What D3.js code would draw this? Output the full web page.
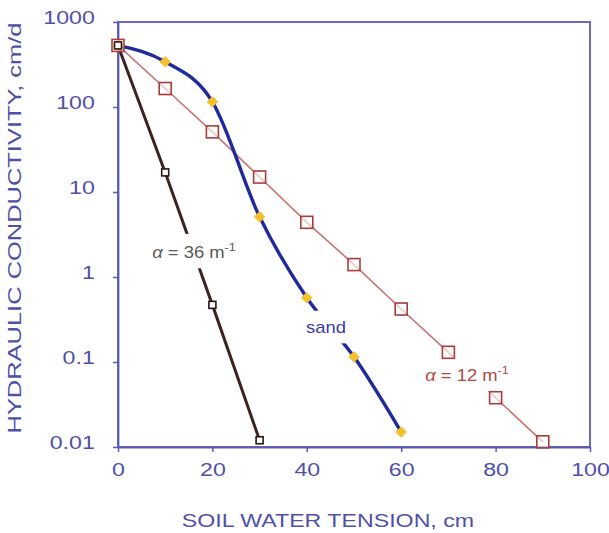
<!DOCTYPE html>
<html>
<head>
<meta charset="utf-8">
<script src="https://cdn.jsdelivr.net/npm/d3@7/dist/d3.min.js"></script>
<style>
  html, body { margin: 0; padding: 0; background: #fff; }
  svg { display: block; }
  text { font-family: "Liberation Sans", Arial, sans-serif; }
</style>
</head>
<body>
<svg id="chart" width="609" height="533"></svg>
<script>
// Soil water tension (cm) at each measured point
const tension36 = [0, 10, 20, 30];
const conductivity36 = [530, 17, 0.47, 0.012];

const tensionSand = [0, 10, 20, 30, 40, 50, 60];
const conductivitySand = [530, 340, 115, 5.1, 0.57, 0.115, 0.015];

const tension12 = [0, 10, 20, 30, 40, 50, 60, 70, 80, 90];
const conductivity12 = [530, 165, 51, 15, 4.4, 1.4, 0.42, 0.13, 0.038, 0.0115];

const xTicks = [0, 20, 40, 60, 80, 100];
const yTicks = [0.01, 0.1, 1, 10, 100, 1000];
const yTickLabels = ["0.01", "0.1", "1", "10", "100", "1000"];

const svg = d3.select("#chart");
const axisColor = "#5a5ab2";
const labelColor = "#5050a8";
const stretch = "scale(1.22,1)";

const x = d3.scaleLinear().domain([0, 100]).range([118, 590]);
const y = d3.scaleLog().domain([0.01, 1000]).range([447, 22]);

// frame
svg.append("rect")
  .attr("x", x(0)).attr("y", y(1000))
  .attr("width", x(100) - x(0)).attr("height", y(0.01) - y(1000))
  .attr("fill", "none").attr("stroke", axisColor).attr("stroke-width", 1.8);

// axes
const xAxis = svg.append("g")
  .attr("transform", `translate(0,${y(0.01)})`)
  .call(d3.axisBottom(x).tickValues(xTicks).tickSize(5).tickSizeOuter(0).tickFormat(d3.format("d")));
const yAxis = svg.append("g")
  .attr("transform", `translate(${x(0)},0)`)
  .call(d3.axisLeft(y).tickValues(yTicks).tickSize(5).tickSizeOuter(0)
    .tickFormat((d, i) => yTickLabels[i]));

[xAxis, yAxis].forEach(g => {
  g.select(".domain").attr("stroke", axisColor).attr("stroke-width", 1.8);
  g.selectAll(".tick line").attr("stroke", axisColor).attr("stroke-width", 1.5);
  g.selectAll(".tick text")
    .attr("fill", labelColor)
    .attr("font-size", 19)
    .attr("font-family", "Liberation Sans, Arial, sans-serif")
    .attr("transform", stretch);
});
xAxis.selectAll(".tick text").attr("y", 16).attr("dy", "0.71em");
yAxis.selectAll(".tick text").attr("x", -19).attr("dy", "0.1em");

// axis titles
svg.append("g").attr("transform", "translate(328,527)")
  .append("text")
  .attr("text-anchor", "middle")
  .attr("font-size", 19)
  .attr("fill", labelColor)
  .attr("transform", stretch)
  .text("SOIL WATER TENSION, cm");

svg.append("g").attr("transform", "translate(21,228) rotate(-90)")
  .append("text")
  .attr("text-anchor", "middle")
  .attr("font-size", 19)
  .attr("fill", labelColor)
  .attr("transform", "scale(1.34,1)")
  .text("HYDRAULIC CONDUCTIVITY, cm/d");

const zip = (xs, ys) => xs.map((t, i) => ({ t, k: ys[i] }));
const data36 = zip(tension36, conductivity36);
const dataSand = zip(tensionSand, conductivitySand);
const data12 = zip(tension12, conductivity12);

const straight = d3.line().x(d => x(d.t)).y(d => y(d.k));
const smooth = d3.line().x(d => x(d.t)).y(d => y(d.k)).curve(d3.curveMonotoneX);

// series lines
svg.append("path").datum(data12)
  .attr("d", straight).attr("fill", "none")
  .attr("stroke", "#c87474").attr("stroke-width", 1.6);
svg.append("path").datum(dataSand)
  .attr("d", smooth).attr("fill", "none")
  .attr("stroke", "#1f2a9c").attr("stroke-width", 3.4);
svg.append("path").datum(data36)
  .attr("d", straight).attr("fill", "none")
  .attr("stroke", "#3c2222").attr("stroke-width", 3);

// in-plot labels with white backing that breaks the lines
function label(cx, cy, color, build) {
  const g = svg.append("g").attr("transform", `translate(${cx},${cy})`);
  const bg = g.append("rect").attr("fill", "#fff");
  const t = g.append("text")
    .attr("text-anchor", "middle")
    .attr("dy", "0.35em")
    .attr("font-size", 16)
    .attr("fill", color)
    .attr("transform", "scale(1.15,1)");
  build(t);
  const b = t.node().getBBox();
  bg.attr("x", b.x * 1.15 - 3).attr("y", b.y - 7)
    .attr("width", b.width * 1.15 + 6).attr("height", b.height + 14);
}
function alphaText(t, value) {
  t.append("tspan").attr("font-style", "italic").text("α");
  t.append("tspan").text(` = ${value} m`);
  t.append("tspan").attr("font-size", 11).attr("baseline-shift", "super").text("-1");
}

label(194, 252, "#5a5a5a", t => alphaText(t, 36));
label(326, 327, "#3c3ca8", t => t.text("sand"));
label(467, 375, "#b04848", t => alphaText(t, 12));

// markers
svg.append("g").selectAll("rect").data(data12).join("rect")
  .attr("x", d => x(d.t) - 6).attr("y", d => y(d.k) - 6)
  .attr("width", 12).attr("height", 12)
  .attr("fill", "#fff").attr("fill-opacity", 0.6)
  .attr("stroke", "#a83c3c").attr("stroke-width", 1.6);
svg.append("g").selectAll("path").data(dataSand).join("path")
  .attr("transform", d => `translate(${x(d.t)},${y(d.k)})`)
  .attr("d", d3.symbol(d3.symbolDiamond2, 70))
  .attr("fill", "#f6c02c")
  .attr("stroke", "#f6c02c").attr("stroke-width", 1).attr("stroke-linejoin", "round");
svg.append("g").selectAll("rect").data(data36).join("rect")
  .attr("x", d => x(d.t) - 3.5).attr("y", d => y(d.k) - 3.5)
  .attr("width", 7).attr("height", 7)
  .attr("fill", "#fff")
  .attr("stroke", "#2a1414").attr("stroke-width", 1.6);
</script>
</body>
</html>
